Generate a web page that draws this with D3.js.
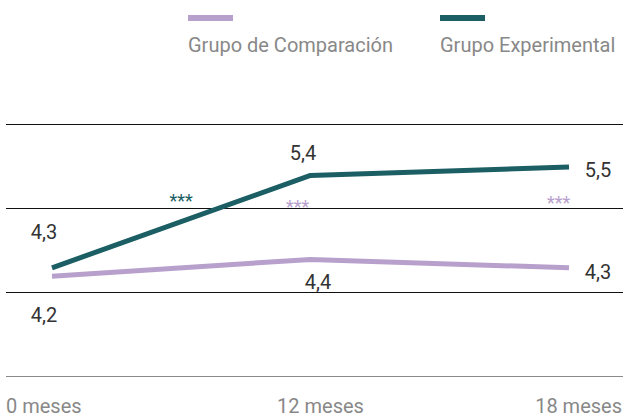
<!DOCTYPE html>
<html>
<head>
<meta charset="utf-8">
<script src="https://cdn.jsdelivr.net/npm/d3@7"></script>
<style>
  html, body { margin: 0; padding: 0; background: #fff; }
  svg { display: block; font-family: Roboto, sans-serif; }
</style>
</head>
<body>
<div id="chart"></div>
<script>
'use strict';

var periods = ["0 meses", "12 meses", "18 meses"];
var seriesNames = ["Grupo de Comparación", "Grupo Experimental"];
var comparacion = [4.2, 4.4, 4.3];
var experimental = [4.3, 5.4, 5.5];
var gridValues = [3, 4, 5, 6];
// significance marks: series index, position between periods, height on the value scale
var starMarks = [
  {series: 1, at: 0.5, value: 5.02},
  {series: 0, at: 0.95, value: 4.95},
  {series: 0, at: 1.96, value: 5.0}
];

var width = 627, height = 414;
var colors = ["#b8a0cc", "#1b5e63"];

var svg = d3.select("#chart").append("svg")
    .attr("width", width)
    .attr("height", height);

var x = d3.scalePoint()
    .domain(periods)
    .range([52, 569]);

var y = d3.scaleLinear()
    .domain([3, 6])
    .range([377, 125]);

function xAt(t) {
  var i = Math.floor(t), f = t - i;
  if (i >= periods.length - 1) return x(periods[periods.length - 1]);
  return x(periods[i]) + f * (x(periods[i + 1]) - x(periods[i]));
}

// gridlines
svg.append("g")
  .selectAll("line")
  .data(gridValues)
  .join("line")
    .attr("x1", 6)
    .attr("x2", 623)
    .attr("y1", d => Math.round(y(d)) - 0.5)
    .attr("y2", d => Math.round(y(d)) - 0.5)
    .attr("stroke", d => d === 3 ? "#8a8a8a" : "#111")
    .attr("stroke-width", 1);

// x labels
svg.append("g")
    .style("font-size", "20px")
    .attr("fill", "#888")
  .selectAll("text")
  .data(periods)
  .join("text")
    .attr("x", (d, i) => i === 0 ? 6 : i === periods.length - 1 ? 622 : x(d) + 10)
    .attr("y", 413)
    .attr("text-anchor", (d, i) => i === 0 ? "start" : i === periods.length - 1 ? "end" : "middle")
    .text(d => d);

var line = d3.line()
    .x((d, i) => x(periods[i]))
    .y(d => y(d));

var allSeries = [comparacion, experimental];

svg.append("g")
  .selectAll("path")
  .data(allSeries)
  .join("path")
    .attr("d", d => line(d))
    .attr("fill", "none")
    .attr("stroke", (d, i) => colors[i])
    .attr("stroke-width", 5)
    .attr("stroke-linejoin", "round");

function fmt(v) { return d3.format(".1f")(v).replace(".", ","); }

// value label offsets [dx, dy] per series/point
var labelOffsets = [
  [[-8, 46], [7.5, 30], [29, 11]],
  [[-8, -29], [-7.5, -15], [29, 10]]
];

var labels = svg.append("g")
    .style("font-size", "20px")
    .attr("fill", "#333")
    .attr("text-anchor", "middle");

allSeries.forEach(function(s, si) {
  labels.selectAll(null)
    .data(s)
    .join("text")
      .attr("x", (d, i) => x(periods[i]) + labelOffsets[si][i][0])
      .attr("y", (d, i) => y(d) + labelOffsets[si][i][1])
      .text(d => fmt(d));
});

// significance stars
svg.append("g")
    .style("font-size", "18px")
    .attr("text-anchor", "middle")
  .selectAll("text")
  .data(starMarks)
  .join("text")
    .attr("x", d => xAt(d.at))
    .attr("y", d => y(d.value))
    .attr("fill", d => colors[d.series])
    .text("***");

// legend
var legend = svg.append("g");
var legendX = [188, 440];
seriesNames.forEach(function(name, i) {
  legend.append("rect")
    .attr("x", legendX[i])
    .attr("y", 15)
    .attr("width", 45)
    .attr("height", 6)
    .attr("fill", colors[i]);
  legend.append("text")
    .attr("x", legendX[i])
    .attr("y", 52)
    .style("font-size", "20px")
    .attr("fill", "#888")
    .text(name);
});
</script>
</body>
</html>
